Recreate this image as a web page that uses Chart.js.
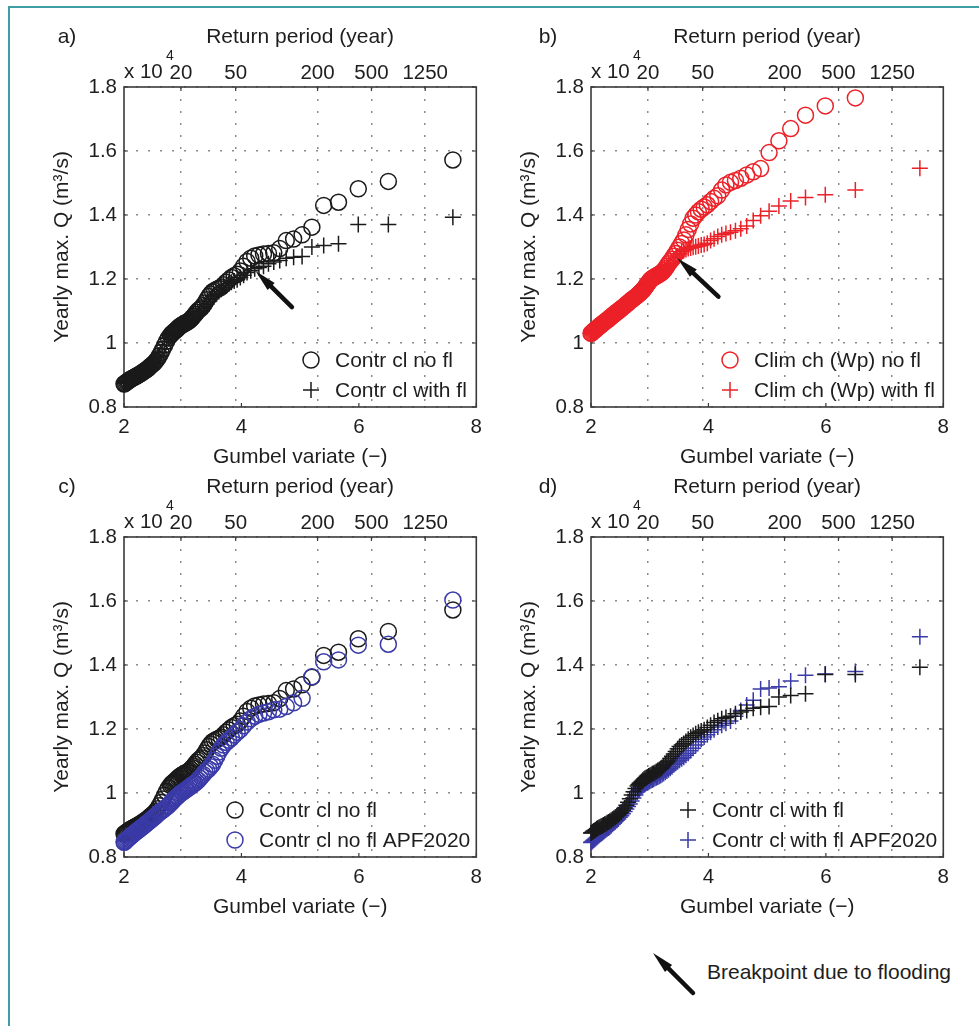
<!DOCTYPE html>
<html><head><meta charset="utf-8">
<script src="https://cdn.jsdelivr.net/npm/chart.js@4.4.1/dist/chart.umd.min.js"></script>
<style>
html,body{margin:0;padding:0;background:#fff;}
#wrap{position:relative;width:979px;height:1026px;overflow:hidden;background:#fff;}
#frame{position:absolute;left:8px;top:6px;width:1100px;height:1100px;border-left:2px solid #3f9ea4;border-top:2px solid #3f9ea4;}
canvas{position:absolute;}
#note{position:absolute;left:707px;top:959px;font:21px 'Liberation Sans',Arial,sans-serif;line-height:25px;color:#1e1e1e;white-space:nowrap;}
</style></head>
<body><div id="wrap"><div id="frame"></div>
<canvas id="ca" width="490" height="472" style="left:0;top:0"></canvas>
<canvas id="cb" width="490" height="472" style="left:467px;top:0"></canvas>
<canvas id="cc" width="490" height="472" style="left:0;top:450px"></canvas>
<canvas id="cd" width="490" height="472" style="left:467px;top:450px"></canvas>
<canvas id="cn" width="60" height="60" style="left:640px;top:940px"></canvas>
<div id="note">Breakpoint due to flooding</div>
</div>
<script>
// Gumbel variate of each ranked year
const gumbelX = [2.001, 2.009, 2.026, 2.043, 2.061, 2.079, 2.098, 2.115, 2.134, 2.153,
 2.173, 2.194, 2.213, 2.234, 2.255, 2.276, 2.299, 2.320, 2.343, 2.367,
 2.390, 2.414, 2.440, 2.465, 2.491, 2.517, 2.544, 2.573, 2.602, 2.631,
 2.661, 2.692, 2.724, 2.757, 2.791, 2.808, 2.826, 2.844, 2.863, 2.882,
 2.901, 2.920, 2.940, 2.960, 2.981, 3.001, 3.023, 3.045, 3.067, 3.090,
 3.113, 3.137, 3.161, 3.186, 3.211, 3.237, 3.264, 3.292, 3.320, 3.349,
 3.379, 3.410, 3.442, 3.475, 3.508, 3.544, 3.580, 3.617, 3.656, 3.697,
 3.739, 3.783, 3.829, 3.877, 3.927, 3.981, 4.037, 4.096, 4.159, 4.226,
 4.298, 4.376, 4.460, 4.551, 4.652, 4.763, 4.889, 5.033, 5.200, 5.401,
 5.653, 5.990, 6.502, 7.601];

// Yearly max Q (x 10^4 m3/s)
const ctrlNoFl = [0.872, 0.873, 0.875, 0.878, 0.880, 0.882, 0.885, 0.887, 0.889, 0.891,
 0.893, 0.895, 0.897, 0.899, 0.901, 0.904, 0.906, 0.909, 0.912, 0.915,
 0.918, 0.921, 0.926, 0.930, 0.934, 0.938, 0.944, 0.951, 0.960, 0.970,
 0.981, 0.993, 1.005, 1.016, 1.024, 1.028, 1.031, 1.034, 1.037, 1.040,
 1.043, 1.047, 1.050, 1.053, 1.056, 1.058, 1.060, 1.062, 1.065, 1.067,
 1.070, 1.074, 1.079, 1.084, 1.090, 1.096, 1.102, 1.106, 1.110, 1.117,
 1.125, 1.135, 1.145, 1.153, 1.160, 1.164, 1.168, 1.171, 1.175, 1.182,
 1.190, 1.197, 1.205, 1.210, 1.215, 1.225, 1.240, 1.255, 1.265, 1.272,
 1.275, 1.278, 1.280, 1.282, 1.295, 1.320, 1.325, 1.338, 1.362, 1.430,
 1.440, 1.482, 1.505, 1.572];

const ctrlWithFl = [0.875, 0.876, 0.878, 0.881, 0.883, 0.885, 0.888, 0.890, 0.892, 0.894,
 0.896, 0.898, 0.900, 0.902, 0.904, 0.907, 0.909, 0.912, 0.915, 0.918,
 0.921, 0.924, 0.928, 0.932, 0.936, 0.940, 0.946, 0.953, 0.962, 0.971,
 0.982, 0.994, 1.004, 1.014, 1.022, 1.026, 1.030, 1.033, 1.036, 1.040,
 1.043, 1.046, 1.048, 1.050, 1.053, 1.055, 1.057, 1.060, 1.062, 1.064,
 1.067, 1.070, 1.073, 1.076, 1.080, 1.085, 1.090, 1.095, 1.100, 1.108,
 1.115, 1.122, 1.130, 1.138, 1.145, 1.150, 1.155, 1.161, 1.168, 1.174,
 1.180, 1.185, 1.190, 1.194, 1.198, 1.205, 1.212, 1.220, 1.226, 1.232,
 1.236, 1.240, 1.248, 1.253, 1.258, 1.265, 1.268, 1.270, 1.300, 1.305,
 1.310, 1.370, 1.370, 1.393];

const climNoFl = [1.030, 1.031, 1.034, 1.037, 1.040, 1.042, 1.045, 1.048, 1.051, 1.054,
 1.057, 1.060, 1.063, 1.066, 1.069, 1.072, 1.075, 1.079, 1.082, 1.086,
 1.089, 1.093, 1.097, 1.100, 1.104, 1.108, 1.112, 1.116, 1.121, 1.125,
 1.130, 1.135, 1.139, 1.144, 1.149, 1.152, 1.155, 1.158, 1.162, 1.165,
 1.169, 1.174, 1.179, 1.184, 1.189, 1.195, 1.199, 1.202, 1.205, 1.207,
 1.210, 1.212, 1.215, 1.218, 1.221, 1.226, 1.232, 1.240, 1.248, 1.255,
 1.262, 1.271, 1.280, 1.290, 1.300, 1.311, 1.322, 1.338, 1.355, 1.372,
 1.390, 1.400, 1.410, 1.418, 1.425, 1.432, 1.442, 1.452, 1.460, 1.478,
 1.494, 1.502, 1.508, 1.515, 1.525, 1.535, 1.545, 1.595, 1.632, 1.670,
 1.712, 1.741, 1.766, null];

const climWithFl = [1.028, 1.030, 1.033, 1.036, 1.039, 1.041, 1.044, 1.047, 1.050, 1.053,
 1.056, 1.059, 1.062, 1.065, 1.068, 1.071, 1.074, 1.078, 1.081, 1.085,
 1.088, 1.092, 1.096, 1.099, 1.103, 1.107, 1.111, 1.115, 1.120, 1.124,
 1.129, 1.134, 1.138, 1.143, 1.148, 1.151, 1.154, 1.157, 1.161, 1.164,
 1.168, 1.172, 1.177, 1.181, 1.186, 1.191, 1.195, 1.199, 1.202, 1.204,
 1.207, 1.209, 1.212, 1.215, 1.218, 1.222, 1.226, 1.231, 1.238, 1.244,
 1.250, 1.258, 1.265, 1.272, 1.279, 1.285, 1.289, 1.292, 1.295, 1.297,
 1.299, 1.301, 1.303, 1.306, 1.308, 1.312, 1.320, 1.326, 1.333, 1.338,
 1.342, 1.346, 1.351, 1.357, 1.366, 1.383, 1.398, 1.412, 1.428, 1.444,
 1.455, 1.463, 1.478, 1.546];

const ctrlNoFlAPF = [0.846, 0.847, 0.850, 0.853, 0.856, 0.859, 0.862, 0.865, 0.868, 0.871,
 0.874, 0.877, 0.880, 0.883, 0.886, 0.889, 0.892, 0.895, 0.898, 0.902,
 0.906, 0.909, 0.913, 0.917, 0.921, 0.925, 0.929, 0.934, 0.939, 0.943,
 0.947, 0.951, 0.956, 0.961, 0.968, 0.971, 0.975, 0.978, 0.982, 0.985,
 0.988, 0.991, 0.995, 0.998, 1.001, 1.003, 1.006, 1.009, 1.012, 1.015,
 1.018, 1.022, 1.025, 1.028, 1.031, 1.035, 1.040, 1.046, 1.052, 1.058,
 1.065, 1.070, 1.075, 1.082, 1.090, 1.102, 1.115, 1.128, 1.140, 1.150,
 1.158, 1.165, 1.172, 1.181, 1.190, 1.198, 1.210, 1.222, 1.232, 1.240,
 1.246, 1.250, 1.254, 1.260, 1.262, 1.270, 1.282, 1.296, 1.363, 1.410,
 1.416, 1.462, 1.465, 1.603];

const ctrlWithFlAPF = [0.845, 0.846, 0.849, 0.852, 0.855, 0.858, 0.861, 0.864, 0.867, 0.870,
 0.873, 0.876, 0.879, 0.882, 0.885, 0.888, 0.891, 0.894, 0.898, 0.902,
 0.906, 0.910, 0.915, 0.919, 0.924, 0.929, 0.935, 0.942, 0.950, 0.958,
 0.966, 0.975, 0.984, 0.994, 1.004, 1.008, 1.012, 1.016, 1.020, 1.023,
 1.026, 1.029, 1.031, 1.033, 1.035, 1.037, 1.039, 1.041, 1.043, 1.046,
 1.048, 1.050, 1.052, 1.055, 1.058, 1.061, 1.065, 1.069, 1.073, 1.077,
 1.082, 1.088, 1.093, 1.098, 1.102, 1.107, 1.112, 1.118, 1.124, 1.132,
 1.140, 1.150, 1.160, 1.168, 1.175, 1.182, 1.190, 1.198, 1.206, 1.212,
 1.218, 1.225, 1.240, 1.258, 1.275, 1.290, 1.325, 1.328, 1.332, 1.350,
 1.368, 1.372, 1.380, 1.488];

// Tick labels
const yTickVals = [0.8, 1.0, 1.2, 1.4, 1.6, 1.8];
const yTickLabels = ['0.8', '1', '1.2', '1.4', '1.6', '1.8'];
const xTickVals = [2, 4, 6, 8];
const xTickLabels = ['2', '4', '6', '8'];
const returnPeriodLabels = ['20', '50', '200', '500', '1250'];
const returnPeriodPos = [2.970, 3.902, 5.296, 6.214, 7.130];

const BLACK = '#1a1a1a', RED = '#ec2128', BLUE = '#3a3aa8';
const TEXT = '#1e1e1e', GRID = '#8c8c8c';
const FONT = "'Liberation Sans', Arial, Helvetica, sans-serif";
const MARK_W = 1.5;
Chart.defaults.font.family = FONT;
Chart.defaults.color = TEXT;

function pts(ys) { return gumbelX.map((x, i) => ({x: x, y: ys[i]})); }

// order: lower value is drawn later (on top)
function series(label, ys, style, color, order) {
  return {label: label, data: pts(ys), pointStyle: style, pointRadius: 8, order: order,
    borderColor: color, backgroundColor: 'rgba(0,0,0,0)', pointBorderWidth: MARK_W,
    borderWidth: MARK_W, showLine: false, clip: false};
}

function drawArrow(ctx, x1, y1, x2, y2) {
  const head = 22, half = 5;
  const dx = x2 - x1, dy = y2 - y1, L = Math.hypot(dx, dy), ux = dx / L, uy = dy / L;
  const bx = x2 - ux * head, by = y2 - uy * head;
  ctx.save();
  ctx.strokeStyle = '#111'; ctx.fillStyle = '#111'; ctx.lineWidth = 4.5; ctx.lineCap = 'round';
  ctx.beginPath(); ctx.moveTo(x1, y1); ctx.lineTo(bx + ux * 3, by + uy * 3); ctx.stroke();
  ctx.beginPath(); ctx.moveTo(x2, y2);
  ctx.lineTo(bx - uy * half, by + ux * half); ctx.lineTo(bx + uy * half, by - ux * half);
  ctx.closePath(); ctx.fill();
  ctx.restore();
}

function drawMarker(ctx, style, color, x, y) {
  ctx.save(); ctx.strokeStyle = color; ctx.lineWidth = MARK_W;
  ctx.beginPath();
  if (style === 'circle') { ctx.arc(x, y, 8, 0, Math.PI * 2); }
  else { ctx.moveTo(x - 8, y); ctx.lineTo(x + 8, y); ctx.moveTo(x, y - 8); ctx.lineTo(x, y + 8); }
  ctx.stroke(); ctx.restore();
}

function decorPlugin(d) {
  return {
    id: 'decor',
    beforeDatasetsDraw(chart) {
      const ctx = chart.ctx, a = chart.chartArea, sx = chart.scales.x, sy = chart.scales.y;
      ctx.save();
      ctx.strokeStyle = '#3a3a3a'; ctx.lineWidth = 1.6;
      ctx.strokeRect(a.left, a.top, a.right - a.left, a.bottom - a.top);
      ctx.lineWidth = 1.2;
      ctx.beginPath();
      xTickVals.forEach(v => { const p = sx.getPixelForValue(v); ctx.moveTo(p, a.bottom); ctx.lineTo(p, a.bottom - 4); });
      returnPeriodPos.forEach(v => { const p = sx.getPixelForValue(v); ctx.moveTo(p, a.top); ctx.lineTo(p, a.top + 4); });
      yTickVals.forEach(v => { const p = sy.getPixelForValue(v);
        ctx.moveTo(a.left, p); ctx.lineTo(a.left + 4, p); ctx.moveTo(a.right, p); ctx.lineTo(a.right - 4, p); });
      ctx.stroke();
      ctx.restore();
    },
    afterDatasetsDraw(chart) {
      const ctx = chart.ctx, a = chart.chartArea, sx = chart.scales.x, sy = chart.scales.y;
      if (d.arrow) {
        drawArrow(ctx, sx.getPixelForValue(d.arrow[0]), sy.getPixelForValue(d.arrow[1]),
                       sx.getPixelForValue(d.arrow[2]), sy.getPixelForValue(d.arrow[3]));
      }
      ctx.save();
      ctx.fillStyle = TEXT;
      ctx.textBaseline = 'middle';
      ctx.font = '21px ' + FONT;
      ctx.textAlign = 'center';
      ctx.fillText(d.label, d.labelX, 37);
      ctx.textAlign = 'left';
      ctx.font = '20.5px ' + FONT;
      ctx.fillText('x 10', a.left, 72);
      ctx.font = '14px ' + FONT;
      ctx.fillText('4', a.left + 42, 56);
      ctx.font = '21px ' + FONT;
      d.legend.forEach((it, i) => {
        const y = 360 + i * 30;
        drawMarker(ctx, it.style, it.color, d.legendX, y);
        ctx.fillStyle = TEXT;
        ctx.fillText(it.text, d.legendX + 24, y + 1);
      });
      ctx.restore();
    }
  };
}

function makePanel(id, datasets, d) {
  const tickFont = {size: 20.5, lineHeight: 1.2};
  const titleFont = {size: 21, lineHeight: 1.2};
  new Chart(document.getElementById(id), {
    type: 'scatter',
    data: {datasets: datasets},
    options: {
      responsive: false, animation: false, events: [], devicePixelRatio: 1,
      layout: {padding: {left: 0, right: 11, top: 0, bottom: 0}},
      plugins: {legend: {display: false}, tooltip: {enabled: false}},
      scales: {
        x: {type: 'linear', position: 'bottom', min: 2, max: 8,
          afterBuildTicks: ax => { ax.ticks = xTickVals.map(v => ({value: v})); },
          afterFit: ax => { ax.height = 65; },
          grid: {display: false, drawTicks: false}, border: {display: false},
          ticks: {padding: 8, maxRotation: 0, autoSkip: false, color: TEXT, font: tickFont,
            callback: (v, i) => xTickLabels[i]},
          title: {display: true, text: 'Gumbel variate (−)', color: TEXT, font: titleFont, padding: {top: 0, bottom: 2}}},
        xTop: {type: 'linear', axis: 'x', position: 'top', min: 2, max: 8,
          afterBuildTicks: ax => { ax.ticks = returnPeriodPos.map(v => ({value: v})); },
          afterFit: ax => { ax.height = 87; },
          grid: {display: true, drawTicks: false, color: GRID, lineWidth: 1.5},
          border: {display: false, dash: [2, 10]},
          ticks: {padding: 1, maxRotation: 0, autoSkip: false, color: TEXT, font: tickFont,
            callback: (v, i) => returnPeriodLabels[i]},
          title: {display: true, text: 'Return period (year)', color: TEXT, font: titleFont, padding: {top: 25, bottom: 0}}},
        y: {type: 'linear', position: 'left', min: 0.8, max: 1.8,
          afterBuildTicks: ax => { ax.ticks = yTickVals.map(v => ({value: v})); },
          afterFit: ax => { ax.width = 124; },
          grid: {display: true, drawTicks: false, color: GRID, lineWidth: 1.5},
          border: {display: false, dash: [2, 10]},
          ticks: {padding: 7, autoSkip: false, color: TEXT, font: tickFont,
            callback: (v, i) => yTickLabels[i]},
          title: {display: true, text: 'Yearly max. Q (m³/s)', color: TEXT, font: titleFont, padding: {top: 50, bottom: 0}}}
      }
    },
    plugins: [decorPlugin(d)]
  });
}

makePanel('ca', [
  series('Contr cl no fl', ctrlNoFl, 'circle', BLACK, 1),
  series('Contr cl with fl', ctrlWithFl, 'cross', BLACK, 0)
], {label: 'a)', labelX: 67, legendX: 311, arrow: [4.86, 1.112, 4.24, 1.225],
    legend: [{style: 'circle', color: BLACK, text: 'Contr cl no fl'}, {style: 'cross', color: BLACK, text: 'Contr cl with fl'}]});

makePanel('cb', [
  series('Clim ch (Wp) no fl', climNoFl, 'circle', RED, 1),
  series('Clim ch (Wp) with fl', climWithFl, 'cross', RED, 0)
], {label: 'b)', labelX: 81, legendX: 263, arrow: [4.17, 1.145, 3.47, 1.265],
    legend: [{style: 'circle', color: RED, text: 'Clim ch (Wp) no fl'}, {style: 'cross', color: RED, text: 'Clim ch (Wp) with fl'}]});

makePanel('cc', [
  series('Contr cl no fl', ctrlNoFl, 'circle', BLACK, 1),
  series('Contr cl no fl APF2020', ctrlNoFlAPF, 'circle', BLUE, 0)
], {label: 'c)', labelX: 67, legendX: 235,
    legend: [{style: 'circle', color: BLACK, text: 'Contr cl no fl'}, {style: 'circle', color: BLUE, text: 'Contr cl no fl APF2020'}]});

makePanel('cd', [
  series('Contr cl with fl', ctrlWithFl, 'cross', BLACK, 0),
  series('Contr cl with fl APF2020', ctrlWithFlAPF, 'cross', BLUE, 1)
], {label: 'd)', labelX: 81, legendX: 221,
    legend: [{style: 'cross', color: BLACK, text: 'Contr cl with fl'}, {style: 'cross', color: BLUE, text: 'Contr cl with fl APF2020'}]});

// note arrow
drawArrow(document.getElementById('cn').getContext('2d'), 53, 53, 13, 13);
</script>
</body></html>
